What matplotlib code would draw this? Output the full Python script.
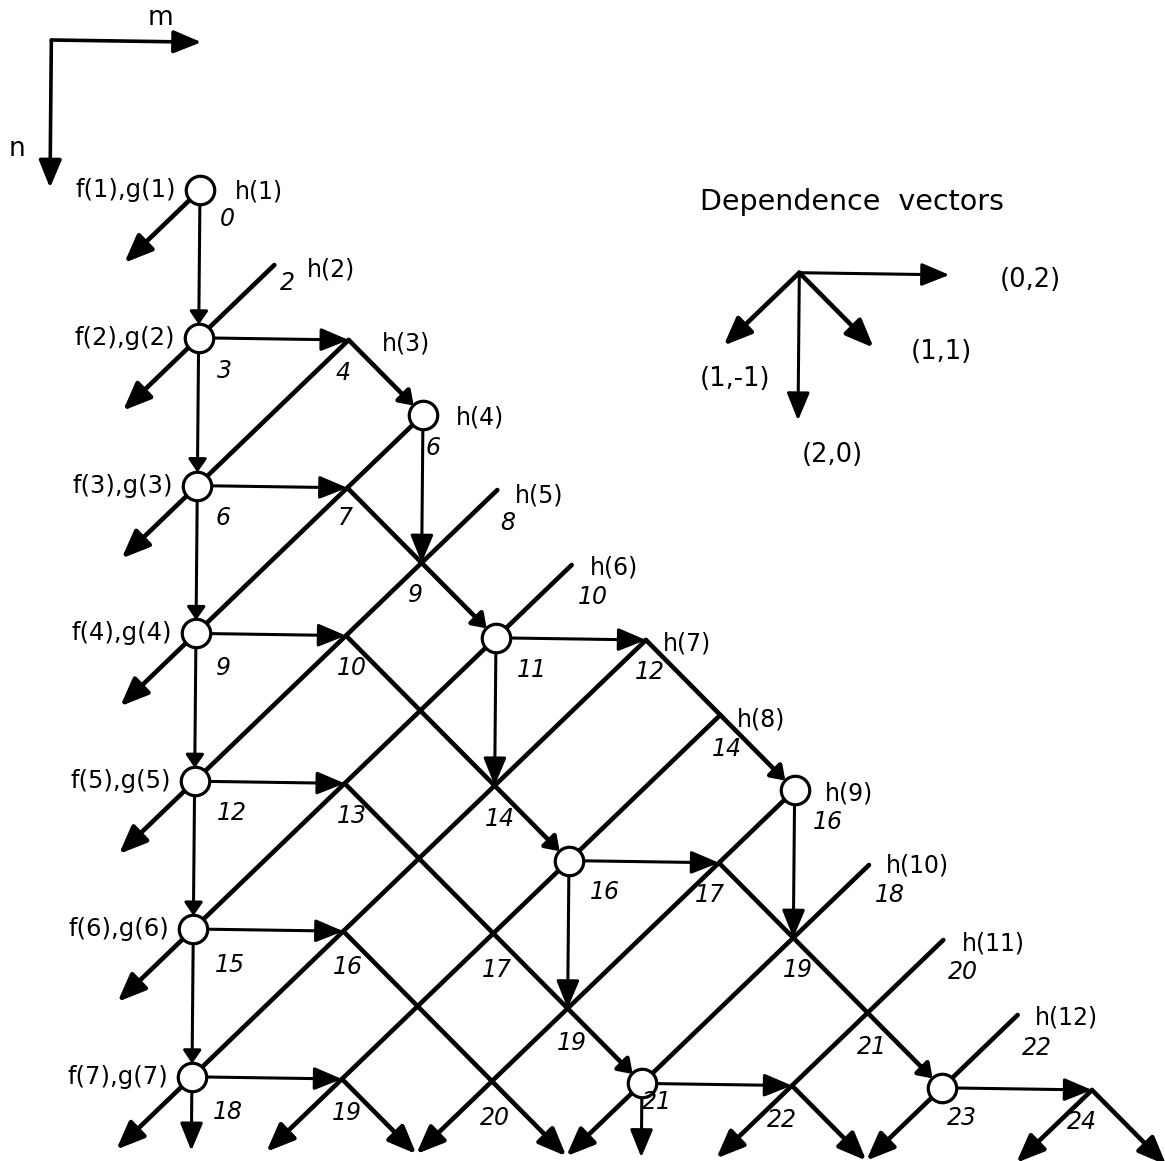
import matplotlib
matplotlib.use("Agg")
import matplotlib.pyplot as plt
from matplotlib.patches import FancyArrowPatch
from matplotlib.transforms import Affine2D

# ---------------- data (grid coordinates: n = row, m = column) ----------------
f_n = [0, 2, 4, 6, 8, 10, 12]
f_labels = ["f(1),g(1)", "f(2),g(2)", "f(3),g(3)", "f(4),g(4)",
            "f(5),g(5)", "f(6),g(6)", "f(7),g(7)"]
h_pos = [0, 1, 2, 3, 4, 5, 6, 7, 8, 9, 10, 11]
h_labels = ["h(1)", "h(2)", "h(3)", "h(4)", "h(5)", "h(6)",
            "h(7)", "h(8)", "h(9)", "h(10)", "h(11)", "h(12)"]
cell_n = [3, 6, 9, 12, 8, 12]
cell_m = [3, 4, 5, 6, 8, 10]

# (n0, m, n1) vertical dependence (2,0)
vert_edges = [(0, 0, 2), (2, 0, 4), (4, 0, 6), (6, 0, 8), (8, 0, 10), (10, 0, 12),
              (12, 0, 13), (3, 3, 5), (6, 4, 8), (9, 5, 11), (12, 6, 13), (8, 8, 10)]
# (n, m0, m1) horizontal dependence (0,2)
horiz_edges = [(2, 0, 2), (4, 0, 2), (6, 0, 2), (8, 0, 2), (10, 0, 2), (12, 0, 2),
               (6, 4, 6), (9, 5, 7), (12, 6, 8), (12, 10, 12)]
# (n0, m0, n1, m1) diagonal (1,1)
dr_edges = [(2, 2, 3, 3), (4, 2, 6, 4), (6, 2, 9, 5), (8, 2, 12, 6), (10, 2, 13, 5),
            (12, 2, 13, 3), (6, 6, 8, 8), (9, 7, 12, 10), (12, 8, 13, 9), (12, 12, 13, 13)]
# (n0, m0, n1, m1) diagonal (1,-1)
dl_edges = [(0, 0, 1, -1), (1, 1, 3, -1), (2, 2, 5, -1), (3, 3, 7, -1), (4, 4, 9, -1),
            (5, 5, 11, -1), (6, 6, 13, -1), (7, 7, 13, 1), (8, 8, 13, 3), (9, 9, 13, 5),
            (10, 10, 13, 7), (11, 11, 13, 9), (12, 12, 13, 11)]

time_n = [0, 1, 2, 2, 3, 4, 4, 4, 5, 5, 6, 6, 6, 6, 7, 8, 8, 8, 8, 9, 9, 9,
          10, 10, 10, 10, 10, 11, 11, 11, 12, 12, 12, 12, 12, 12, 12]
time_m = [0, 1, 0, 2, 3, 0, 2, 4, 3, 5, 0, 2, 4, 6, 7, 8, 0, 2, 4, 5, 7, 9,
          0, 2, 4, 8, 10, 5, 9, 11, 0, 2, 4, 6, 8, 10, 12]
time_val = ["0", "2", "3", "4", "6", "6", "7", "8", "9", "10", "9", "10", "11", "12",
            "14", "16", "12", "13", "14", "16", "17", "18", "15", "16", "17", "19",
            "20", "19", "21", "22", "18", "19", "20", "21", "22", "23", "24"]

dep_origin = (1, 8)
dep_vectors = [(0, 2), (1, 1), (1, -1), (2, 0)]
dep_labels = ["(0,2)", "(1,1)", "(1,-1)", "(2,0)"]

# ---------------- styles ----------------
time_off = [(27, 29), (13, 18), (26, 33), (-6, 33), (10, 33), (26, 32), (-2, 30),
            (10, 33), (-6, 32), (21, 32), (27, 35), (6, 32), (36, 32), (4, 32),
            (7, 34), (33, 32), (37, 32), (7, 33), (5, 33), (36, 31), (-9, 32),
            (21, 30), (37, 36), (5, 36), (4, 37), (5, 32), (20, 32), (4, 35),
            (4, 34), (19, 33), (36, 35), (5, 34), (3, 37), (15, 19), (-10, 34),
            (20, 30), (-10, 32)]
h_off = [(35, 2), (33, 5), (33, 3), (33, 3), (18, 5), (18, 3), (17, 3), (17, 4),
         (30, 3), (17, 1), (19, 3), (17, 2)]
dep_off = [(81, 5), (68, 4), (11, 33), (34, 35)]

plt.rcParams['font.family'] = ['DejaVu Sans']

W, H = 1165, 1161
fig = plt.figure(figsize=(W / 100, H / 100), dpi=100)
ax = fig.add_axes([0, 0, 1, 1])
ax.set_xlim(0, W)
ax.set_ylim(H, 0)
ax.axis('off')

# grid -> pixel transform (slight skew of the scanned original)
G = Affine2D.from_values(75.0, 1.1, -0.67, 73.9, 200.0, 190.0)
T = G + ax.transData

LW_THIN = 2.2
LW_THICK = 3.3
BIG = "-|>,head_length=17,head_width=7"
SMALL = "-|>,head_length=8,head_width=5.5"
R_SHRINK = 9.5
cells = set(zip(f_n, [0] * len(f_n))) | set(zip(cell_n, cell_m))


def arrow(n0, m0, n1, m1, lw):
    end_cell = (n1, m1) in cells
    style = SMALL if end_cell else BIG
    p = FancyArrowPatch((m0, n0), (m1, n1), transform=T, arrowstyle=style,
                        mutation_scale=1, lw=lw, color='black',
                        shrinkA=0, shrinkB=R_SHRINK if end_cell else 0,
                        zorder=2, clip_on=False)
    ax.add_patch(p)


for n0, m, n1 in vert_edges:
    arrow(n0, m, n1, m, LW_THIN)
for n, m0, m1 in horiz_edges:
    arrow(n, m0, n, m1, LW_THIN)
for n0, m0, n1, m1 in dr_edges:
    arrow(n0, m0, n1, m1, LW_THICK)
for n0, m0, n1, m1 in dl_edges:
    arrow(n0, m0, n1, m1, LW_THICK)

# circles
all_cn = f_n + cell_n
all_cm = [0] * len(f_n) + cell_m
ax.scatter(all_cm, all_cn, s=420, facecolor='white', edgecolor='black',
           linewidths=2.3, transform=T, zorder=4, clip_on=False)

# labels
for n, lab in zip(f_n, f_labels):
    ax.annotate(lab, xy=(0, n), xycoords=T, xytext=(-24, 0), textcoords='offset pixels',
                ha='right', va='center', fontsize=17.5, zorder=5)
for k, lab, off in zip(h_pos, h_labels, h_off):
    ax.annotate(lab, xy=(k, k), xycoords=T, xytext=(off[0], -off[1]),
                textcoords='offset pixels', ha='left', va='center', fontsize=17, zorder=5)
for n, m, v, off in zip(time_n, time_m, time_val, time_off):
    ax.annotate(v, xy=(m, n), xycoords=T, xytext=(off[0], -off[1]),
                textcoords='offset pixels', ha='center', va='center',
                fontsize=17, style='italic', zorder=5)

# coordinate axes (m, n)
for (dn, dm) in [(0, 2), (2, 0)]:
    ax.add_patch(FancyArrowPatch((-2, -2), (-2 + dm, -2 + dn), transform=T,
                                 arrowstyle=BIG, mutation_scale=1, lw=LW_THIN + 0.4,
                                 color='black', shrinkA=0, shrinkB=0, clip_on=False))
ax.annotate("m", xy=(0, -2), xycoords=T, xytext=(-41, 24), textcoords='offset pixels',
            ha='center', va='center', fontsize=19)
ax.annotate("n", xy=(-2, 0), xycoords=T, xytext=(-33, 39), textcoords='offset pixels',
            ha='center', va='center', fontsize=19)

# dependence vectors
n0, m0 = dep_origin
for (dn, dm), lab, off in zip(dep_vectors, dep_labels, dep_off):
    lw = LW_THIN if (dn == 0 or dm == 0) else LW_THICK
    ax.add_patch(FancyArrowPatch((m0, n0), (m0 + dm, n0 + dn), transform=T,
                                 arrowstyle=BIG, mutation_scale=1, lw=lw, color='black',
                                 shrinkA=0, shrinkB=0, clip_on=False))
    ax.annotate(lab, xy=(m0 + dm, n0 + dn), xycoords=T, xytext=(off[0], -off[1]),
                textcoords='offset pixels', ha='center', va='center', fontsize=18.5)
ax.annotate("Dependence  vectors", xy=(m0, n0), xycoords=T, xytext=(-99, 71),
            textcoords='offset pixels', ha='left', va='center', fontsize=20.5)

fig.savefig("out.png", dpi=100, facecolor='white')
